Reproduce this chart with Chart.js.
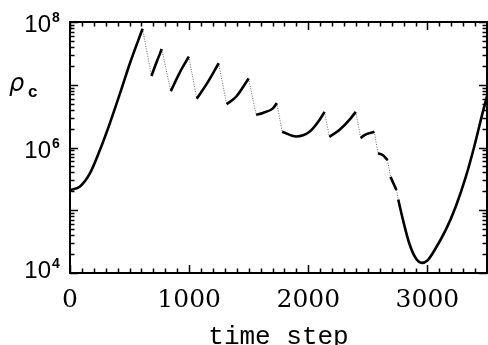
<!DOCTYPE html>
<html>
<head>
<meta charset="utf-8">
<script src="https://cdn.jsdelivr.net/npm/chart.js@4"></script>
<style>
  html, body { margin: 0; padding: 0; background: #fff; }
  #wrap { width: 488px; height: 345px; position: relative; }
</style>
</head>
<body>
<div id="wrap"><canvas id="rhoChart"></canvas></div>
<script>
'use strict';

// time step / central density
const timeStep = [
  0, 84, 168, 251, 335, 419, 503, 609,
  684, 727, 770,
  846, 920, 997,
  1064, 1150, 1248,
  1315, 1396, 1499,
  1563, 1619, 1703, 1736,
  1781, 1898, 2010, 2094, 2136,
  2177, 2261, 2345, 2398,
  2440, 2471, 2554,
  2585, 2624, 2666,
  2690, 2740,
  2755, 2792, 2848, 2904, 2954, 3000, 3043, 3155, 3238, 3322, 3392, 3462, 3500
];
const rhoC = [
  2.1e5, 2.4e5, 3.9e5, 9.1e5, 2.45e6, 7.2e6, 2.2e7, 7.8e7,
  1.38e7, 2.3e7, 3.7e7,
  7.9e6, 1.55e7, 2.8e7,
  6.0e6, 1.05e7, 2.2e7,
  4.9e6, 6.5e6, 1.26e7,
  3.3e6, 3.55e6, 4.2e6, 5.1e6,
  1.78e6, 1.5e6, 1.78e6, 2.75e6, 3.7e6,
  1.48e6, 1.9e6, 2.75e6, 3.7e6,
  1.41e6, 1.58e6, 1.78e6,
  8.1e5, 7.6e5, 6.3e5,
  3.4e5, 2.1e5,
  1.48e5, 7.4e4, 2.95e4, 1.7e4, 1.45e4, 1.58e4, 2.05e4, 4.9e4, 1.15e5, 3.4e5, 1.02e6, 3.5e6, 6.6e6
];
// steps where a sudden drop (dotted) begins
const dropStart = [609, 770, 997, 1248, 1499, 1736, 2136, 2398, 2554, 2666, 2740];

const xTickLabels = [0, 1000, 2000, 3000];
const yTickLabels = [1e4, 1e6, 1e8];

// ── build the two datasets: solid pieces and dotted drops ──
const solidPts = [];
const dropPts  = [];
timeStep.forEach((t, i) => {
  solidPts.push({ x: t, y: rhoC[i] });
  if (dropStart.includes(t) && i + 1 < timeStep.length) {
    solidPts.push({ x: t, y: null });
    dropPts.push({ x: t, y: rhoC[i] }, { x: timeStep[i + 1], y: rhoC[i + 1] }, { x: t, y: null });
  }
});

// ── frame, inward ticks, y labels, y title ──
const framePlugin = {
  id: 'frame',
  afterDraw(chart) {
    const { ctx, chartArea: a, scales: { x, y } } = chart;
    ctx.save();
    ctx.strokeStyle = '#000';
    ctx.lineWidth = 2;
    ctx.strokeRect(a.left, a.top, a.right - a.left, a.bottom - a.top);

    ctx.lineWidth = 1.5;
    ctx.beginPath();
    for (let v = 0; v <= 3500; v += 100) {
      const px = Math.round(x.getPixelForValue(v)) + 0.5;
      const len = v % 1000 === 0 ? 8 : 4.5;
      ctx.moveTo(px, a.bottom); ctx.lineTo(px, a.bottom - len);
      ctx.moveTo(px, a.top);    ctx.lineTo(px, a.top + len);
    }
    for (let d = 4; d <= 8; d++) {
      for (let m = 1; m <= 9; m++) {
        const v = m * Math.pow(10, d);
        if (v > 1e8) break;
        const py = Math.round(y.getPixelForValue(v)) + 0.5;
        const len = m === 1 ? 8 : 4.5;
        ctx.moveTo(a.left, py);  ctx.lineTo(a.left + len, py);
        ctx.moveTo(a.right, py); ctx.lineTo(a.right - len, py);
      }
    }
    ctx.stroke();

    // y tick labels 10^n
    ctx.fillStyle = '#000';
    yTickLabels.forEach(v => {
      const py = y.getPixelForValue(v);
      const exp = String(Math.round(Math.log10(v)));
      const base = v === 1e4 ? py + 5 : py + 10;
      ctx.font = '24px "Liberation Sans", sans-serif';
      ctx.textAlign = 'right';
      ctx.textBaseline = 'alphabetic';
      ctx.fillText('10', 51, base);
      ctx.font = 'bold 14px "Liberation Sans", sans-serif';
      ctx.textAlign = 'left';
      ctx.fillText(exp, 52, base - 10);
    });

    // y title rho_c
    ctx.font = 'italic 24px "DejaVu Sans", sans-serif';
    ctx.textAlign = 'left';
    ctx.fillText('\u03C1', 9, 91);
    ctx.font = 'bold 17px "Liberation Sans", sans-serif';
    ctx.fillText('c', 28, 97);
    ctx.restore();
  }
};

new Chart(document.getElementById('rhoChart'), {
  type: 'line',
  data: {
    datasets: [
      {
        label: 'rho_c',
        data: solidPts,
        borderColor: '#000',
        borderWidth: 2.6,
        pointRadius: 0,
        cubicInterpolationMode: 'monotone',
        spanGaps: false,
        fill: false
      },
      {
        label: 'drop',
        data: dropPts,
        borderColor: '#666',
        borderWidth: 1,
        borderDash: [1, 1.5],
        pointRadius: 0,
        tension: 0,
        spanGaps: false,
        fill: false
      }
    ]
  },
  options: {
    responsive: true, maintainAspectRatio: false, animation: false,
    layout: { padding: { top: 22, right: 1, left: 0, bottom: 0 } },
    plugins: { legend: { display: false }, tooltip: { enabled: false } },
    scales: {
      x: {
        type: 'linear', min: 0, max: 3500,
        grid: { display: false }, border: { display: false },
        afterFit: s => { s.height = 72; },
        afterBuildTicks: s => { s.ticks = xTickLabels.map(v => ({ value: v })); },
        ticks: {
          autoSkip: false, maxRotation: 0, padding: 4, color: '#000',
          font: { family: '"DejaVu Serif", serif', size: 25 },
          callback: v => String(v)
        },
        title: {
          display: true, text: 'time step', color: '#000',
          padding: { top: 0, bottom: -5 },
          font: { family: '"Liberation Mono", monospace', size: 26, lineHeight: 1 }
        }
      },
      y: {
        type: 'logarithmic', min: 1e4, max: 1e8,
        grid: { display: false }, border: { display: false },
        ticks: { display: false },
        afterFit: s => { s.width = 70; }
      }
    }
  },
  plugins: [framePlugin]
});
</script>
</body>
</html>
